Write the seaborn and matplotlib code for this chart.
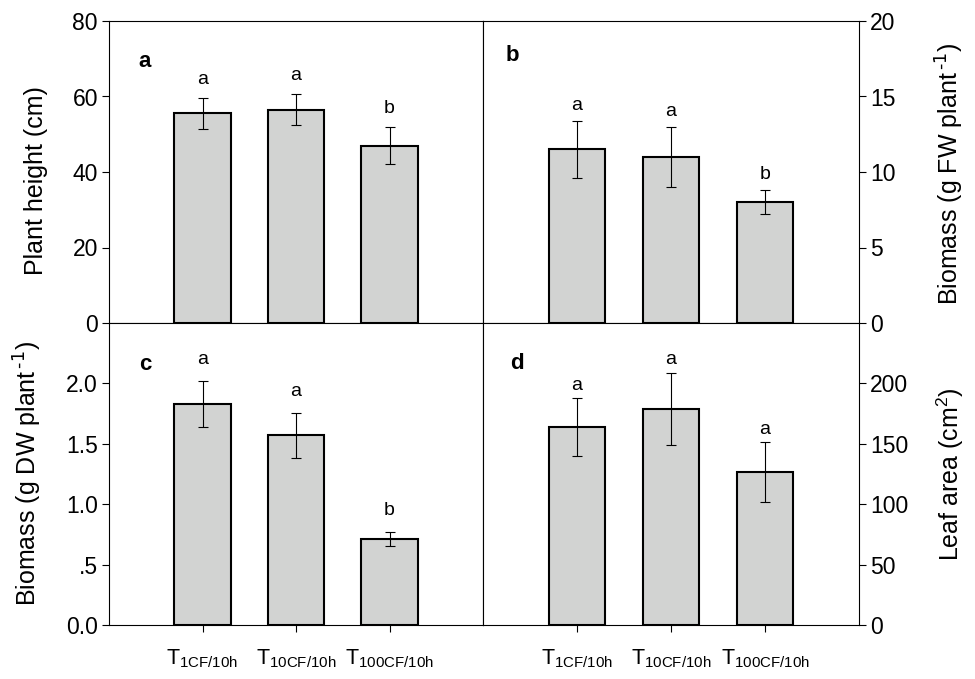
import matplotlib
matplotlib.use('Agg')
import matplotlib.pyplot as plt
import seaborn as sns
import pandas as pd

# treatments and values
treatments = ['1CF/10h', '10CF/10h', '100CF/10h']
tick_labels = [r'$\mathregular{T_{1CF/10h}}$', r'$\mathregular{T_{10CF/10h}}$',
               r'$\mathregular{T_{100CF/10h}}$']

height_mean = [55.5, 56.5, 47.0]
height_err = [4.1, 4.1, 5.0]
height_sig = ['a', 'a', 'b']

fw_mean = [11.5, 11.0, 8.0]
fw_err = [1.9, 2.0, 0.8]
fw_sig = ['a', 'a', 'b']

dw_mean = [1.83, 1.57, 0.71]
dw_err = [0.19, 0.185, 0.06]
dw_sig = ['a', 'a', 'b']

leaf_mean = [164, 179, 126.5]
leaf_err = [24, 30, 25]
leaf_sig = ['a', 'a', 'a']

sns.set_style('ticks')
plt.rcParams['font.family'] = ['Liberation Sans', 'DejaVu Sans']
plt.rcParams['mathtext.default'] = 'regular'
plt.rcParams['text.color'] = 'black'
plt.rcParams['axes.labelcolor'] = 'black'
plt.rcParams['xtick.color'] = 'black'
plt.rcParams['ytick.color'] = 'black'

fig = plt.figure(figsize=(9.75, 6.79), dpi=100)
left_x, right_x = 109 / 975, 483 / 975
w_left, w_right = 374 / 975, 376 / 975
top_y, bot_y = 1 - 323 / 679, 1 - 625 / 679
h = 302 / 679

panels = [
    dict(pos=[left_x, top_y, w_left, h], mean=height_mean, err=height_err, sig=height_sig,
         letter='a', ylim=(0, 80), yticks=[0, 20, 40, 60, 80], yticklabels=None,
         ylabel='Plant height (cm)', side='left', bottom=False, off=10, lab=(-0.195, 0.47),
         tag=(0.096, 0.865)),
    dict(pos=[right_x, top_y, w_right, h], mean=fw_mean, err=fw_err, sig=fw_sig,
         letter='b', ylim=(0, 20), yticks=[0, 5, 10, 15, 20], yticklabels=None,
         ylabel=r'Biomass (g FW plant$^{\,\text{-1}}$)', side='right', bottom=False, off=8,
         lab=(1.242, 0.495), tag=(0.079, 0.887)),
    dict(pos=[left_x, bot_y, w_left, h], mean=dw_mean, err=dw_err, sig=dw_sig,
         letter='c', ylim=(0, 2.5), yticks=[0, 0.5, 1.0, 1.5, 2.0],
         yticklabels=['0.0', '.5', '1.0', '1.5', '2.0'],
         ylabel=r'Biomass (g DW plant$^{\,\text{-1}}$)', side='left', bottom=True, off=12.5,
         lab=(-0.217, 0.5), tag=(0.098, 0.861)),
    dict(pos=[right_x, bot_y, w_right, h], mean=leaf_mean, err=leaf_err, sig=leaf_sig,
         letter='d', ylim=(0, 250), yticks=[0, 50, 100, 150, 200], yticklabels=None,
         ylabel=r'Leaf area (cm$^2$)', side='right', bottom=True, off=6,
         lab=(1.242, 0.5), tag=(0.09, 0.866)),
]

for p in panels:
    ax = fig.add_axes(p['pos'])
    df = pd.DataFrame({'treatment': treatments, 'value': p['mean']})
    sns.barplot(data=df, x='treatment', y='value', order=treatments, ax=ax,
                color='#d2d3d2', saturation=1, edgecolor='black', linewidth=1.5,
                width=0.6, errorbar=None)
    xs = range(len(treatments))
    ax.errorbar(xs, p['mean'], yerr=p['err'], fmt='none', ecolor='black',
                elinewidth=0.8, capsize=3.3, capthick=0.8, zorder=5)
    for x, m, e, s in zip(xs, p['mean'], p['err'], p['sig']):
        ax.annotate(s, (x, m + e), xytext=(0, p['off']), textcoords='offset points',
                    ha='center', va='baseline', fontsize=14)
    ax.text(p['tag'][0], p['tag'][1], p['letter'], transform=ax.transAxes,
            fontsize=16, fontweight='bold', ha='center', va='center')

    ax.set_xlim(-1, 3)
    ax.set_ylim(*p['ylim'])
    ax.set_xticks(list(xs))
    if p['bottom']:
        ax.set_xticklabels(tick_labels, fontsize=15.5)
    else:
        ax.set_xticklabels([])
    ax.set_xlabel('')
    if p['yticklabels'] is None:
        ax.set_yticks(p['yticks'])
    else:
        ax.set_yticks(p['yticks'], p['yticklabels'])

    ax.tick_params(axis='x', direction='out', length=5, width=0.8, pad=11)
    ax.tick_params(axis='y', direction='out', length=5, width=0.8, labelsize=16.5, pad=3)
    if p['side'] == 'right':
        ax.yaxis.tick_right()
        ax.yaxis.set_label_position('right')
    ax.set_ylabel(p['ylabel'], fontsize=18)
    ax.yaxis.set_label_coords(*p['lab'])
    ax.yaxis.label.set_va('center')
    for sp in ax.spines.values():
        sp.set_visible(True)
        sp.set_linewidth(0.8)
        sp.set_color('black')

fig.savefig('out.png', dpi=100)
